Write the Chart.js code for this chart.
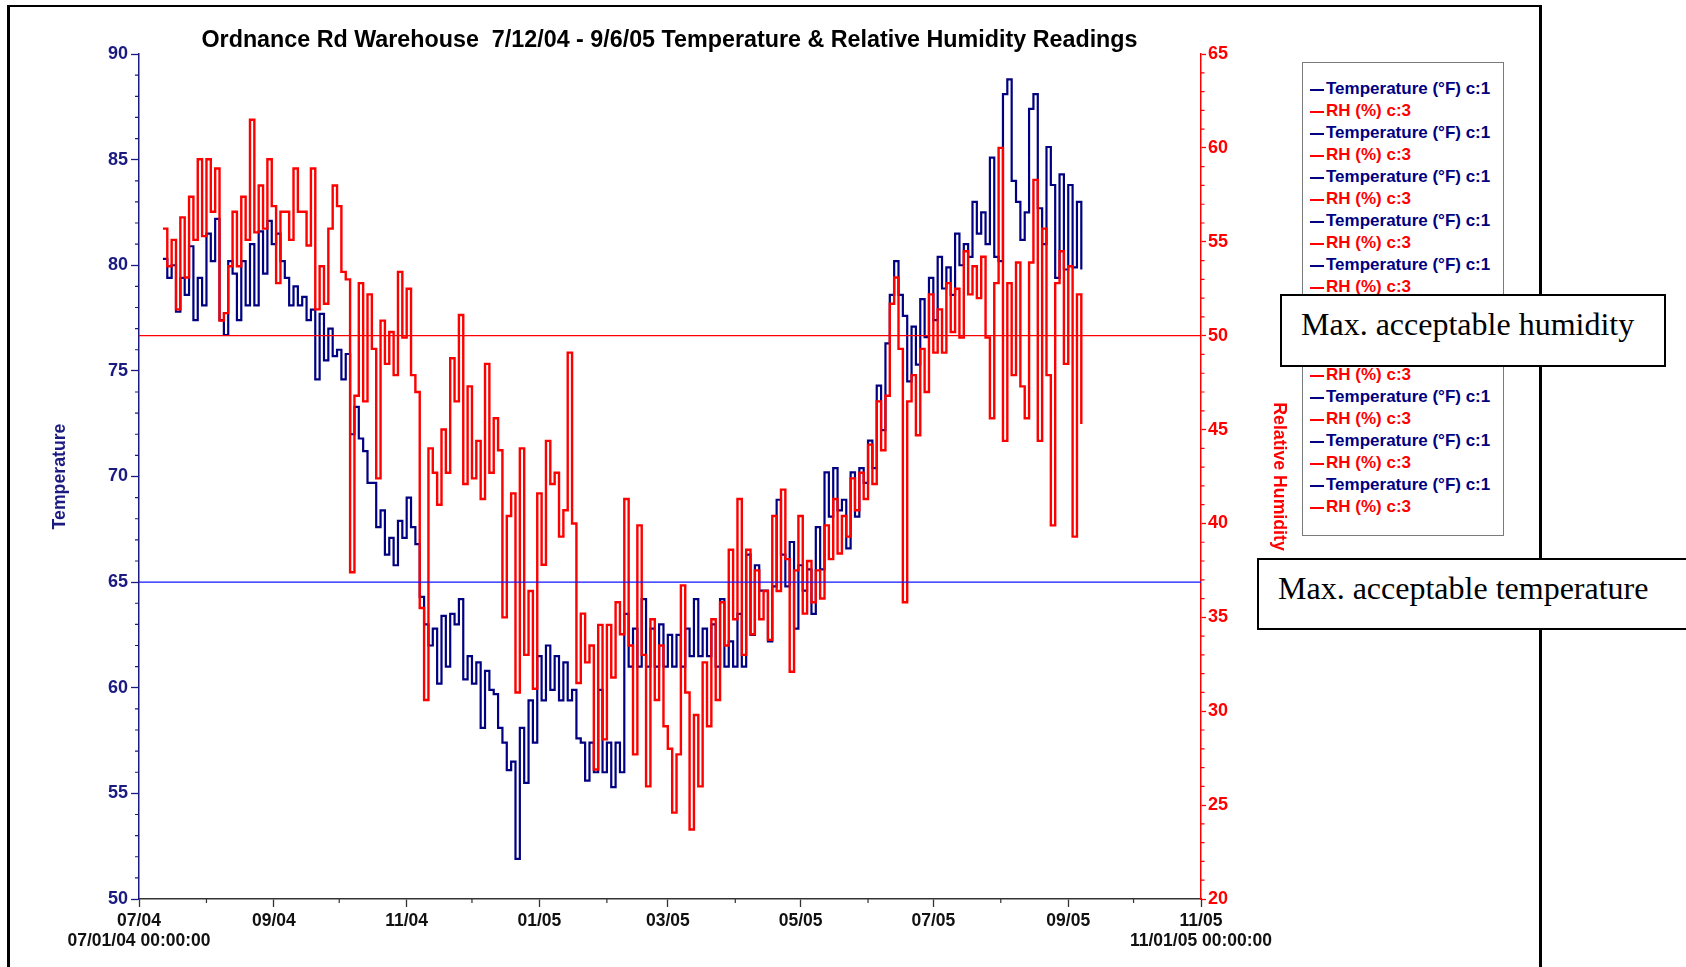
<!DOCTYPE html>
<html>
<head>
<meta charset="utf-8">
<title>Ordnance Rd Warehouse - Temperature &amp; Relative Humidity</title>
<script src="https://cdn.jsdelivr.net/npm/chart.js@4.4.1/dist/chart.umd.min.js"></script>
<style>
  html, body { margin: 0; padding: 0; background: #fff; }
  body { width: 1686px; height: 967px; position: relative; overflow: hidden; font-family: "Liberation Sans", Arial, sans-serif; }
  .frame { position: absolute; left: 7px; top: 5px; width: 1535px; height: 1000px; border: 3px solid #000; border-top-width: 2px; border-bottom: none; box-sizing: border-box; }
  #chart { position: absolute; left: 0; top: 0; }
  .legend { position: absolute; left: 1302px; top: 62px; width: 202px; height: 474px; border: 1.5px solid #7a7a7a; box-sizing: border-box; padding: 15px 0 0 7px; font-weight: bold; font-size: 17px; line-height: 22px; background: #fff; }
  .legend .item { white-space: nowrap; }
  .legend .swatch { display: inline-block; width: 14px; height: 2px; vertical-align: middle; margin-right: 2px; }
  .note { position: absolute; background: #fff; border: 2px solid #000; box-sizing: border-box; font-family: "Liberation Serif", "Times New Roman", serif; font-size: 32px; line-height: 34px; padding: 11px 0 0 19px; color: #000; white-space: nowrap; overflow: hidden; }
  #noteHumidity { left: 1280px; top: 294px; width: 386px; height: 73px; }
  #noteTemperature { left: 1257px; top: 558px; width: 460px; height: 72px; }
</style>
</head>
<body>
<div class="frame"></div>
<canvas id="chart" width="1686" height="967"></canvas>
<div class="legend" id="legend"></div>
<div class="note" id="noteHumidity">Max. acceptable humidity</div>
<div class="note" id="noteTemperature">Max. acceptable temperature</div>
<script>
// days counted from 07/01/04 00:00:00
const monthStarts = [0, 31, 62, 92, 123, 153, 184, 215, 243, 274, 304, 335, 365, 396, 427, 457, 488];
const monthLabels = [["07/04", "07/01/04 00:00:00"], "", "09/04", "", "11/04", "", "01/05", "", "03/05", "", "05/05", "", "07/05", "", "09/05", "", ["11/05", "11/01/05 00:00:00"]];

const sampleDays = [
  11, 13, 15, 17, 19, 21, 23, 25, 27, 29,
  31, 33, 35, 37, 39, 41, 43, 45, 47, 49,
  51, 53, 55, 57, 59, 61, 63, 65, 67, 69,
  71, 73, 75, 77, 79, 81, 83, 85, 87, 89,
  91, 93, 95, 97, 99, 101, 103, 105, 107, 109,
  111, 113, 115, 117, 119, 121, 123, 125, 127, 129,
  131, 133, 135, 137, 139, 141, 143, 145, 147, 149,
  151, 153, 155, 157, 159, 161, 163, 165, 167, 169,
  171, 173, 175, 177, 179, 181, 183, 185, 187, 189,
  191, 193, 195, 197, 199, 201, 203, 205, 207, 209,
  211, 213, 215, 217, 219, 221, 223, 225, 227, 229,
  231, 233, 235, 237, 239, 241, 243, 245, 247, 249,
  251, 253, 255, 257, 259, 261, 263, 265, 267, 269,
  271, 273, 275, 277, 279, 281, 283, 285, 287, 289,
  291, 293, 295, 297, 299, 301, 303, 305, 307, 309,
  311, 313, 315, 317, 319, 321, 323, 325, 327, 329,
  331, 333, 335, 337, 339, 341, 343, 345, 347, 349,
  351, 353, 355, 357, 359, 361, 363, 365, 367, 369,
  371, 373, 375, 377, 379, 381, 383, 385, 387, 389,
  391, 393, 395, 397, 399, 401, 403, 405, 407, 409,
  411, 413, 415, 417, 419, 421, 423, 425, 427, 429,
  431, 433
];

const temperatureF = [
  80.3, 79.4, 80.0, 77.8, 79.4, 78.6, 80.9, 77.4, 79.4, 78.1,
  81.5, 80.2, 82.2, 77.4, 76.7, 80.2, 79.6, 77.4, 80.2, 78.1,
  81.0, 78.1, 81.6, 79.6, 82.1, 81.0, 81.5, 80.2, 79.4, 78.1,
  79.0, 78.1, 78.5, 77.4, 77.9, 74.6, 77.7, 75.5, 77.0, 75.7,
  76.0, 74.6, 75.8, 72.0, 73.3, 71.8, 71.2, 69.7, 69.7, 67.6,
  68.4, 66.3, 67.1, 65.8, 67.9, 67.1, 69.0, 67.6, 66.8, 64.3,
  63.0, 62.0, 62.8, 60.2, 63.4, 61.0, 63.5, 63.0, 64.2, 60.4,
  61.5, 60.2, 61.2, 58.1, 60.8, 59.9, 59.7, 58.1, 57.4, 56.1,
  56.5, 51.9, 58.1, 55.5, 59.4, 57.4, 61.5, 59.4, 62.0, 59.9,
  61.5, 59.4, 61.2, 59.4, 59.9, 57.6, 57.4, 55.6, 57.4, 56.0,
  59.9, 56.0, 57.4, 55.3, 57.4, 56.0, 63.5, 61.0, 62.8, 61.0,
  64.2, 61.0, 62.8, 61.0, 63.0, 61.0, 62.5, 61.0, 62.5, 61.0,
  62.8, 61.5, 64.2, 61.5, 62.8, 61.5, 63.0, 61.0, 64.2, 61.0,
  62.2, 61.0, 63.5, 61.0, 66.3, 62.5, 65.8, 64.6, 64.6, 62.2,
  64.8, 68.9, 66.3, 64.8, 66.9, 62.8, 65.8, 64.6, 65.6, 63.5,
  67.6, 65.6, 70.2, 68.1, 70.4, 68.4, 68.9, 66.6, 70.2, 68.1,
  70.4, 69.7, 71.7, 70.4, 74.3, 72.2, 76.3, 78.6, 80.2, 78.6,
  77.6, 74.5, 77.1, 75.3, 78.4, 76.6, 79.4, 77.4, 80.4, 78.9,
  79.9, 78.6, 81.5, 80.0, 81.0, 80.4, 83.0, 81.5, 82.5, 81.0,
  85.1, 80.4, 80.2, 88.1, 88.8, 84.0, 83.0, 81.2, 82.5, 87.4,
  88.1, 82.7, 81.0, 85.6, 83.8, 79.4, 84.3, 79.8, 83.8, 79.9,
  83.0, 79.8
];

const humidityPct = [
  55.7, 53.7, 55.1, 51.4, 56.3, 53.1, 57.4, 55.1, 59.4, 55.3,
  59.4, 56.6, 58.9, 50.8, 51.2, 53.7, 56.6, 53.7, 57.4, 55.1,
  61.5, 55.5, 58.0, 55.7, 59.4, 56.9, 52.8, 56.6, 56.6, 55.1,
  58.9, 56.6, 56.6, 54.8, 58.9, 51.4, 53.7, 51.7, 55.7, 58.0,
  56.9, 53.4, 53.0, 37.4, 46.8, 52.8, 46.5, 52.2, 49.3, 42.4,
  50.8, 48.5, 50.2, 47.9, 53.4, 49.9, 52.5, 47.9, 47.0, 35.5,
  30.6, 44.0, 42.7, 41.0, 45.0, 42.7, 48.8, 46.5, 51.1, 42.1,
  47.3, 42.4, 44.4, 41.3, 48.5, 42.7, 45.6, 43.9, 35.0, 40.4,
  41.6, 31.0, 44.0, 33.0, 36.4, 31.2, 41.6, 37.8, 44.4, 42.1,
  42.7, 39.3, 40.7, 49.1, 40.0, 31.5, 35.2, 32.6, 33.5, 26.9,
  34.6, 28.5, 34.6, 31.8, 35.8, 34.1, 41.3, 33.5, 27.7, 39.9,
  33.0, 26.0, 34.9, 30.6, 33.5, 29.2, 28.0, 24.6, 27.7, 36.7,
  31.0, 23.7, 29.8, 26.0, 32.6, 29.2, 34.9, 30.6, 35.8, 33.5,
  38.6, 34.9, 41.3, 33.0, 38.6, 34.1, 37.5, 34.9, 36.4, 33.8,
  40.4, 36.4, 41.8, 38.1, 32.1, 37.5, 40.4, 35.2, 38.0, 35.8,
  37.5, 36.0, 39.9, 38.1, 41.3, 38.4, 40.4, 39.3, 42.4, 40.7,
  42.7, 41.3, 44.2, 42.1, 46.5, 43.9, 46.8, 51.7, 53.1, 49.3,
  35.8, 46.5, 47.9, 44.7, 49.3, 47.0, 52.2, 49.1, 51.4, 49.1,
  52.8, 50.2, 52.5, 49.9, 54.5, 52.2, 53.7, 52.0, 54.2, 49.9,
  45.6, 52.8, 60.0, 44.4, 52.8, 47.9, 53.9, 47.3, 45.6, 53.9,
  58.3, 44.4, 55.7, 47.9, 39.9, 52.8, 54.5, 48.5, 53.7, 39.3,
  52.2, 45.3
];

const maxTemperature = 65;
const maxHumidity = 50;
const loggerFiles = 10;

const NAVY = "#000080";
const NAVY_TEXT = "#1a1a80";
const RED = "#ff0000";
const LIMIT_BLUE = "#1515ff";
const FONT = '"Liberation Sans", Arial, sans-serif';
const HIDDEN = "rgba(0,0,0,0)";

Chart.defaults.font.family = FONT;

function toPoints(values) {
  return values.map(function (v, i) { return { x: sampleDays[i], y: v }; });
}

// short ticks for the unlabelled steps, drawn through the scales
const minorTicks = {
  id: "minorTicks",
  afterDraw(chart) {
    const ctx = chart.ctx;
    const specs = [
      { id: "x", len: 4, color: "#333", minor: function (t, i) { return !monthLabels[i]; } },
      { id: "yTemp", len: 4, color: NAVY_TEXT, minor: function (t) { return t.value % 5 !== 0; } },
      { id: "yRH", len: 3.5, color: RED, minor: function (t) { return t.value % 5 !== 0; } }
    ];
    ctx.save();
    ctx.lineWidth = 1.2;
    specs.forEach(function (spec) {
      const scale = chart.scales[spec.id];
      ctx.strokeStyle = spec.color;
      ctx.beginPath();
      scale.ticks.forEach(function (t, i) {
        if (!spec.minor(t, i)) return;
        const p = scale.getPixelForValue(t.value);
        if (spec.id === "x") {
          ctx.moveTo(p, scale.top);
          ctx.lineTo(p, scale.top + spec.len);
        } else if (scale.position === "left") {
          ctx.moveTo(scale.right, p);
          ctx.lineTo(scale.right - spec.len, p);
        } else {
          ctx.moveTo(scale.left, p);
          ctx.lineTo(scale.left + spec.len, p);
        }
      });
      ctx.stroke();
    });
    ctx.restore();
  }
};

const chart = new Chart(document.getElementById("chart"), {
  type: "line",
  data: {
    datasets: [
      {
        label: "Temperature (°F) c:1",
        data: toPoints(temperatureF),
        yAxisID: "yTemp",
        borderColor: NAVY,
        borderWidth: 2.2,
        pointRadius: 0,
        stepped: true,
        order: 2
      },
      {
        label: "RH (%) c:3",
        data: toPoints(humidityPct),
        yAxisID: "yRH",
        borderColor: RED,
        borderWidth: 2.4,
        pointRadius: 0,
        stepped: true,
        order: 1
      },
      {
        label: "Max. acceptable humidity",
        data: [{ x: monthStarts[0], y: maxHumidity }, { x: monthStarts[monthStarts.length - 1], y: maxHumidity }],
        yAxisID: "yRH",
        borderColor: RED,
        borderWidth: 1.2,
        pointRadius: 0,
        order: 0
      },
      {
        label: "Max. acceptable temperature",
        data: [{ x: monthStarts[0], y: maxTemperature }, { x: monthStarts[monthStarts.length - 1], y: maxTemperature }],
        yAxisID: "yTemp",
        borderColor: LIMIT_BLUE,
        borderWidth: 1.4,
        pointRadius: 0,
        order: 0
      }
    ]
  },
  options: {
    responsive: false,
    animation: false,
    events: [],
    layout: { padding: { left: 49, right: 396, top: 28, bottom: 0 } },
    plugins: {
      legend: { display: false },
      tooltip: { enabled: false },
      title: {
        display: true,
        text: "Ordnance Rd Warehouse  7/12/04 - 9/6/05 Temperature & Relative Humidity Readings",
        color: "#000",
        font: { family: FONT, size: 23.3, weight: "bold", lineHeight: 1.1 },
        padding: { top: 0, bottom: 0.4 }
      }
    },
    scales: {
      x: {
        type: "linear",
        min: monthStarts[0],
        max: monthStarts[monthStarts.length - 1],
        afterBuildTicks: function (scale) {
          scale.ticks = monthStarts.map(function (v) { return { value: v }; });
        },
        afterFit: function (scale) { scale.height = 68; },
        border: { color: "#333", width: 1.5 },
        grid: {
          drawOnChartArea: false,
          tickLength: 8,
          tickWidth: 1.3,
          tickColor: function (c) { return monthLabels[c.index] ? "#333" : HIDDEN; }
        },
        ticks: {
          autoSkip: false,
          maxRotation: 0,
          padding: 4,
          color: "#111",
          font: { family: FONT, size: 17.5, weight: "bold", lineHeight: 1.15 },
          callback: function (value, index) { return monthLabels[index]; }
        }
      },
      yTemp: {
        position: "left",
        min: 50,
        max: 90,
        afterFit: function (scale) { scale.width = 90; },
        border: { color: NAVY_TEXT, width: 1.5 },
        grid: {
          drawOnChartArea: false,
          tickLength: 8,
          tickWidth: 1.3,
          tickColor: function (c) { return c.tick && c.tick.value % 5 === 0 ? NAVY_TEXT : HIDDEN; }
        },
        ticks: {
          stepSize: 1,
          maxTicksLimit: 100,
          autoSkip: false,
          padding: 3,
          color: NAVY_TEXT,
          font: { family: FONT, size: 18, weight: "bold" },
          callback: function (v) { return v % 5 === 0 ? v : ""; }
        },
        title: {
          display: true,
          text: "Temperature",
          color: NAVY_TEXT,
          font: { family: FONT, size: 17.7, weight: "bold", lineHeight: 1.2 },
          padding: 0
        }
      },
      yRH: {
        position: "right",
        min: 20,
        max: 65,
        afterFit: function (scale) { scale.width = 89; },
        border: { color: RED, width: 1.5 },
        grid: {
          drawOnChartArea: false,
          tickLength: 5,
          tickWidth: 1.3,
          tickColor: function (c) { return c.tick && c.tick.value % 5 === 0 ? RED : HIDDEN; }
        },
        ticks: {
          stepSize: 1,
          maxTicksLimit: 100,
          autoSkip: false,
          padding: 2,
          color: RED,
          font: { family: FONT, size: 18, weight: "bold" },
          callback: function (v) { return v % 5 === 0 ? v : ""; }
        },
        title: {
          display: true,
          text: "Relative Humidity",
          color: RED,
          font: { family: FONT, size: 17.7, weight: "bold", lineHeight: 1.2 },
          padding: 0
        }
      }
    }
  },
  plugins: [minorTicks]
});

// the logger export lists the same two channels once per downloaded file
const legendBox = document.getElementById("legend");
const legendSeries = chart.data.datasets.slice(0, 2);
for (let f = 0; f < loggerFiles; f++) {
  legendSeries.forEach(function (ds) {
    const row = document.createElement("div");
    row.className = "item";
    row.style.color = ds.borderColor;
    const swatch = document.createElement("span");
    swatch.className = "swatch";
    swatch.style.background = ds.borderColor;
    row.appendChild(swatch);
    row.appendChild(document.createTextNode(ds.label));
    legendBox.appendChild(row);
  });
}
</script>
</body>
</html>
